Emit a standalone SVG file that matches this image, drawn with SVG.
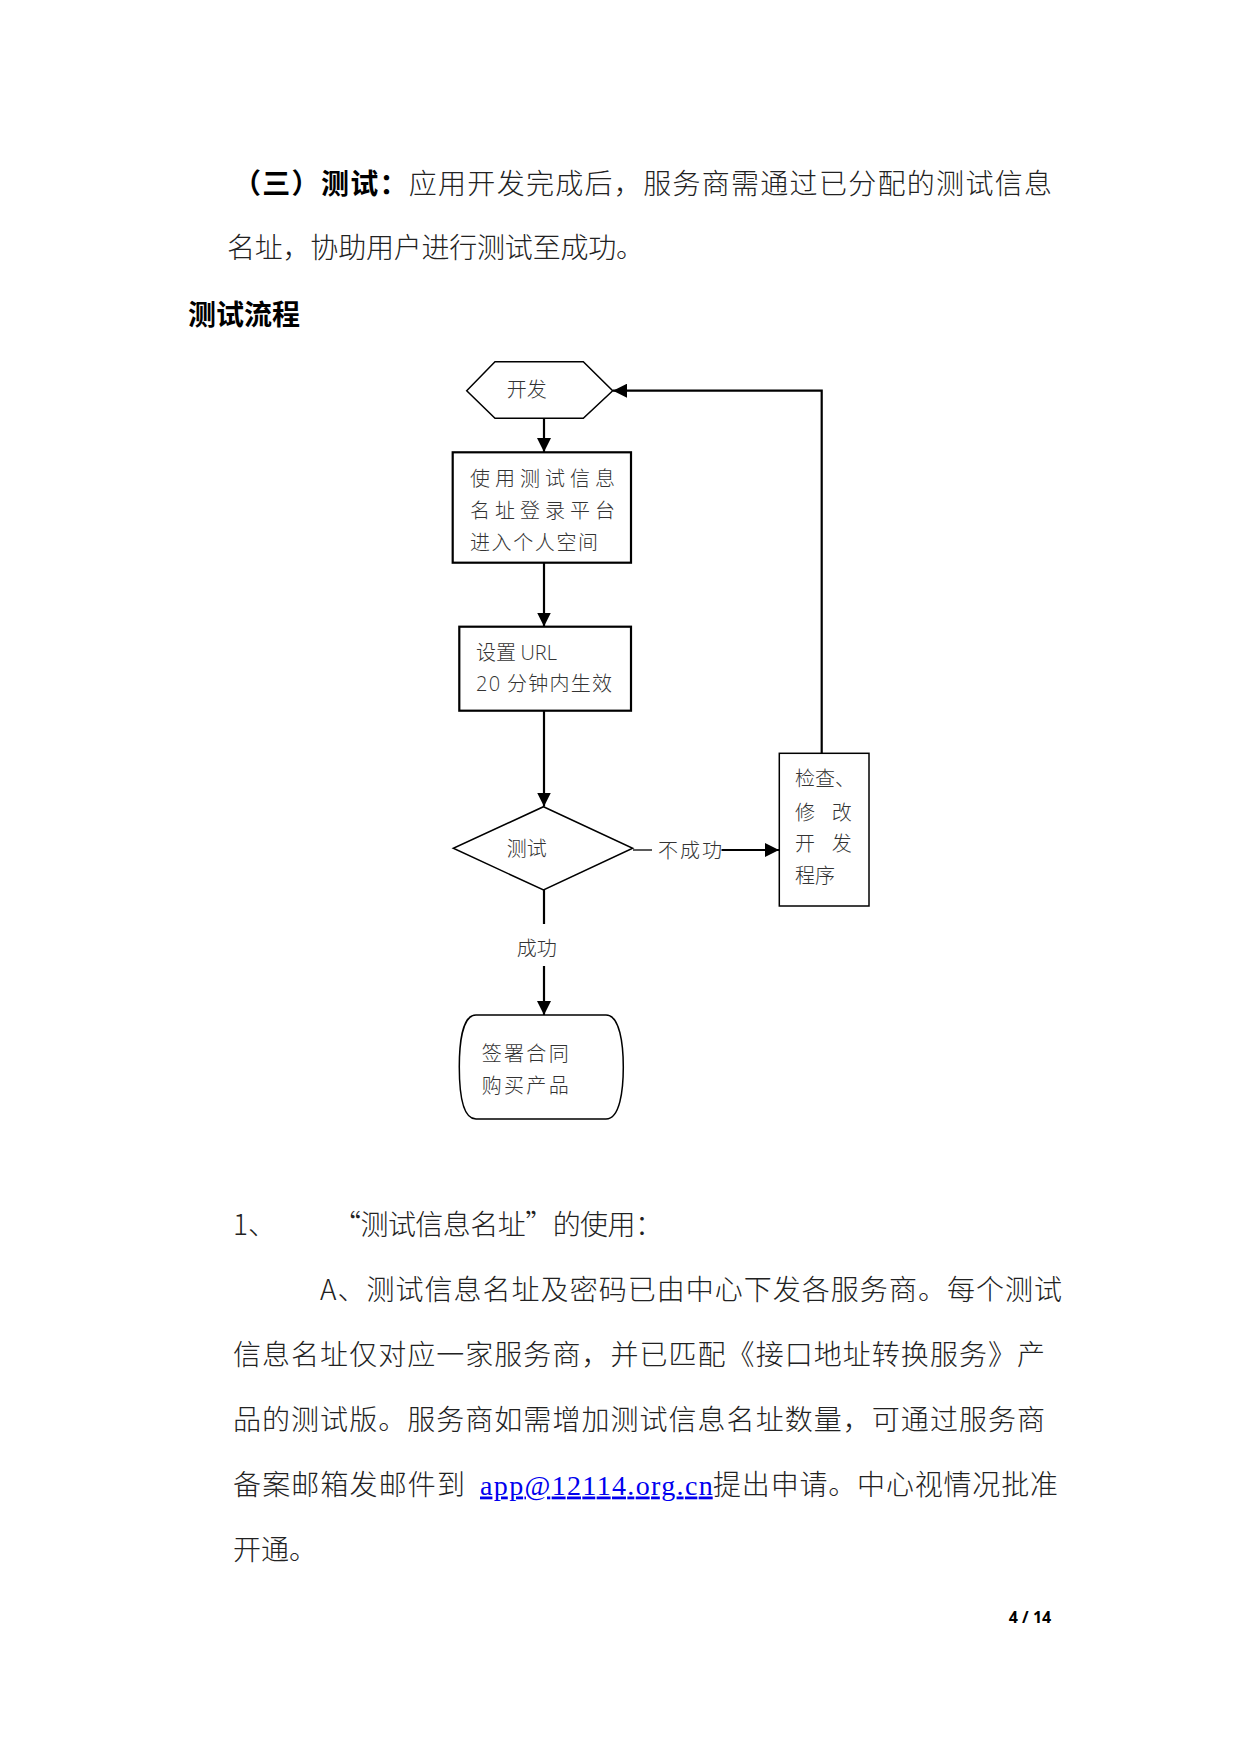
<svg xmlns="http://www.w3.org/2000/svg" width="1241" height="1754" viewBox="0 0 1241 1754">
<defs>
<style>
.body{font-family:"Noto Sans CJK SC","Liberation Serif",serif;font-size:28px;font-weight:300;fill:#222;}
.b{font-weight:bold;fill:#000;}
.fc{font-family:"Noto Sans CJK SC","Liberation Sans",sans-serif;font-size:20px;font-weight:300;fill:#333;}
.lat{font-family:"Open Sans","Liberation Sans",sans-serif;}
.thick{fill:#fff;stroke:#000;stroke-width:2.2;}
.thin{fill:#fff;stroke:#000;stroke-width:1.5;}
.con{fill:none;stroke:#000;stroke-width:2.2;}
.link{font-family:"Liberation Serif",serif;font-weight:normal;fill:#0000ee;}
</style>
<marker id="arr" viewBox="0 0 10 10" refX="10" refY="5" markerWidth="14" markerHeight="14" markerUnits="userSpaceOnUse" orient="auto">
<path d="M0,0 L10,5 L0,10 Z" fill="#000"/>
</marker>
</defs>
<rect width="1241" height="1754" fill="#fff"/>

<g id="heading">
<text class="body" x="233" y="194" textLength="819" lengthAdjust="spacing"><tspan class="b">（三）测试：</tspan>应用开发完成后，服务商需通过已分配的测试信息</text>
<text class="body" x="227" y="258" textLength="417" lengthAdjust="spacing">名址，协助用户进行测试至成功。</text>
<text class="body b" x="188" y="324.5">测试流程</text>
</g>

<g id="connectors">
<line class="con" x1="544" y1="418.5" x2="544" y2="452" marker-end="url(#arr)"/>
<line class="con" x1="544" y1="563" x2="544" y2="626.5" marker-end="url(#arr)"/>
<line class="con" x1="544" y1="711" x2="544" y2="806.5" marker-end="url(#arr)"/>
<line x1="633" y1="850" x2="652" y2="850" stroke="#000" stroke-width="1.3"/>
<line class="con" x1="721.5" y1="850" x2="779" y2="850" marker-end="url(#arr)"/>
<line class="con" x1="544" y1="890" x2="544" y2="924"/>
<line class="con" x1="544" y1="966" x2="544" y2="1015" marker-end="url(#arr)"/>
<polyline class="con" points="821.7,753.3 821.7,390.7 613,390.7" marker-end="url(#arr)"/>
<text class="fc" x="658" y="858" textLength="64" lengthAdjust="spacing">不成功</text>
<text class="fc" x="516.7" y="956">成功</text>
</g>

<g id="node-dev">
<polygon class="thin" points="466.7,390.7 495,361.7 583.3,361.7 612.7,390.7 583.3,418.3 495,418.3"/>
<text class="fc" x="506.7" y="397">开发</text>
</g>

<g id="node-login">
<rect class="thick" x="452.7" y="452.3" width="178.3" height="110.4"/>
<text class="fc" x="470" y="486" textLength="145" lengthAdjust="spacing">使用测试信息</text>
<text class="fc" x="470" y="518" textLength="145" lengthAdjust="spacing">名址登录平台</text>
<text class="fc" x="470" y="549.5" textLength="128" lengthAdjust="spacing">进入个人空间</text>
</g>

<g id="node-url">
<rect class="thick" x="459.3" y="626.7" width="171.7" height="84"/>
<text class="fc" x="476" y="659.5">设置 <tspan class="lat">URL</tspan></text>
<text class="fc" x="476" y="691" textLength="136" lengthAdjust="spacing"><tspan class="lat">20</tspan> 分钟内生效</text>
</g>

<g id="node-test">
<polygon class="thin" points="543.5,806.7 632.7,848.3 543.5,890 453.3,848.3" stroke-width="1.3"/>
<text class="fc" x="506.7" y="856">测试</text>
</g>

<g id="node-fix">
<rect class="thin" x="779.3" y="753.3" width="89.7" height="152.7"/>
<text class="fc" x="795" y="786">检查、</text>
<text class="fc" x="795" y="819.5">修<tspan x="831.7">改</tspan></text>
<text class="fc" x="795" y="851">开<tspan x="831.7">发</tspan></text>
<text class="fc" x="795" y="883">程序</text>
</g>

<g id="node-sign">
<path class="thin" d="M476,1015 H606 C620,1015 623.3,1045 623.3,1067 C623.3,1090 620,1119 606,1119 H476 C462,1119 459.3,1090 459.3,1067 C459.3,1045 462,1015 476,1015 Z"/>
<text class="fc" x="481.7" y="1061" textLength="87" lengthAdjust="spacing">签署合同</text>
<text class="fc" x="481.7" y="1093" textLength="87" lengthAdjust="spacing">购买产品</text>
</g>

<g id="body-text">
<text class="body" x="233" y="1234.5">1、</text>
<text class="body" x="333" y="1234.5" textLength="330" lengthAdjust="spacing">“测试信息名址”的使用：</text>
<text class="body" x="320" y="1299.5" textLength="742" lengthAdjust="spacing">A、测试信息名址及密码已由中心下发各服务商。每个测试</text>
<text class="body" x="233" y="1364.5" textLength="812" lengthAdjust="spacing">信息名址仅对应一家服务商，并已匹配《接口地址转换服务》产</text>
<text class="body" x="233" y="1429.5" textLength="812" lengthAdjust="spacing">品的测试版。服务商如需增加测试信息名址数量，可通过服务商</text>
<text class="body" x="233" y="1494.5" textLength="232" lengthAdjust="spacing">备案邮箱发邮件到</text>
<text class="body link" x="480" y="1494.5" textLength="232.7" lengthAdjust="spacing" text-decoration="underline">app@12114.org.cn</text>
<text class="body" x="713" y="1494.5" textLength="345" lengthAdjust="spacing">提出申请。中心视情况批准</text>
<text class="body" x="233" y="1559.5">开通。</text>
</g>

<g id="page-number">
<text x="1030" y="1623" text-anchor="middle" font-family="'Open Sans','Liberation Sans',sans-serif" font-size="16" font-weight="bold" fill="#000">4 / 14</text>
</g>
</svg>
